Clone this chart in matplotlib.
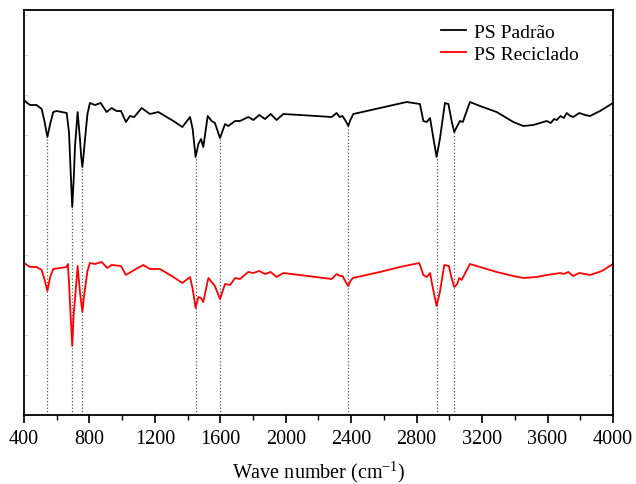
import numpy as np
import matplotlib
matplotlib.use("Agg")
import matplotlib.pyplot as plt
from matplotlib.ticker import MultipleLocator

plt.rcParams["font.family"] = ["Liberation Serif", "DejaVu Serif"]

# FTIR spectra (transmittance, arbitrary units)
wn_padrao = [400, 420, 437, 477, 508, 525, 543, 560, 579, 600, 661, 675, 686, 695, 704,
             712, 728, 742, 750, 757, 765, 773, 788, 803, 834, 869, 905, 936, 966, 993,
             1023, 1048, 1074, 1119, 1170, 1221, 1272, 1313, 1368, 1415, 1431, 1449,
             1466, 1482, 1496, 1523, 1547, 1567, 1598, 1629, 1649, 1690, 1720, 1771,
             1802, 1838, 1873, 1908, 1944, 1985, 2087, 2281, 2311, 2330, 2347, 2370,
             2382, 2395, 2413, 2495, 2576, 2657, 2739, 2820, 2841, 2862, 2882, 2900,
             2922, 2942, 2973, 2994, 3015, 3030, 3048, 3065, 3082, 3126, 3187, 3289,
             3391, 3452, 3513, 3595, 3620, 3640, 3656, 3680, 3700, 3717, 3740, 3757,
             3794, 3830, 3860, 3921, 4000]
t_padrao = [315, 312, 310, 310, 306, 294, 278, 291, 303, 304, 302, 283, 241, 208, 236,
            269, 303, 276, 258, 248, 261, 276, 301, 312, 310, 312, 303, 307, 304, 304,
            293, 299, 298, 307, 301, 303, 298, 294, 288, 298, 286, 258,
            271, 276, 268, 299, 294, 292, 277, 291, 289, 294, 294, 298,
            295, 300, 296, 301, 295, 301, 300, 298, 302, 298, 299, 293,
            289, 295, 301, 304, 307, 310, 313, 311, 294, 293, 297, 279,
            258, 276, 312, 311, 293, 283, 289, 294, 293, 313, 309, 303,
            293, 289, 290, 294, 292, 296, 295, 299, 297, 302, 299, 298,
            302, 300, 299, 304, 312]

wn_reciclado = [400, 437, 477, 508, 525, 543, 560, 579, 661, 668, 675, 686, 695, 704,
                712, 728, 742, 757, 765, 773, 788, 803, 834, 875, 909, 936, 993, 1023,
                1074, 1129, 1170, 1231, 1313, 1368, 1415, 1431, 1449, 1466, 1482, 1496,
                1527, 1567, 1598, 1629, 1660, 1690, 1720, 1771, 1802, 1838, 1873, 1908,
                1944, 1985, 2281, 2311, 2330, 2347, 2370, 2382, 2395, 2410, 2576, 2698,
                2816, 2841, 2862, 2882, 2900, 2922, 2942, 2969, 2997, 3015, 3030, 3048,
                3060, 3075, 3126, 3187, 3289, 3391, 3452, 3534, 3595, 3640, 3677, 3700,
                3727, 3757, 3794, 3860, 3932, 4000]
t_reciclado = [152, 148, 148, 145, 136, 124, 138, 146, 148, 151, 133, 96, 69, 101,
               116, 149, 123, 103, 116, 126, 144, 152, 151, 153, 147, 150, 149, 140,
               145, 150, 146, 146, 138, 132, 138, 126, 107, 118, 117, 113,
               137, 129, 116, 131, 130, 137, 136, 143, 142, 144, 141, 143,
               138, 142, 136, 141, 139, 139, 132, 129, 134, 137, 143, 148,
               152, 140, 138, 142, 126, 109, 123, 150, 149, 136, 128, 131,
               137, 135, 151, 148, 143, 139, 137, 138, 140, 141, 142, 141,
               143, 139, 142, 140, 144, 151]

# marked absorption bands
bands = [543, 695, 757, 1449, 1598, 2382, 2922, 3030]

fig = plt.figure(figsize=(6.36, 4.85), dpi=100)
ax = fig.add_axes([0.0377, 0.1423, 0.9261, 0.835])

for b in bands:
    top = np.interp(b, wn_padrao, t_padrao)
    ax.plot([b, b], [0, top], linestyle=":", color="#555555", linewidth=0.9)

ax.plot(wn_padrao, t_padrao, color="black", linewidth=1.3, label="PS Padrão")
ax.plot(wn_reciclado, t_reciclado, color="red", linewidth=1.3, label="PS Reciclado")

ax.set_xlim(400, 4000)
ax.set_ylim(0, 405)
ax.xaxis.set_major_locator(MultipleLocator(400))
ax.xaxis.set_minor_locator(MultipleLocator(200))
ax.yaxis.set_major_locator(MultipleLocator(40))
ax.tick_params(axis="x", which="major", direction="out", length=6, width=1.2,
               labelsize=14.5, pad=4)
ax.tick_params(axis="x", which="minor", direction="out", length=3.5, width=1.0)
ax.tick_params(axis="y", which="both", direction="in", length=3, width=0.5,
               color="#cccccc", left=True, right=True, labelleft=False)
for s in ax.spines.values():
    s.set_linewidth(1.3)

ax.set_xlabel("Wave number (cm$^{\\mathregular{-1}}$)", fontsize=14.5, labelpad=7)

ax.legend(loc="upper right", frameon=False, fontsize=14, handlelength=1.3,
          handletextpad=0.4, labelspacing=0.2, borderaxespad=0.3,
          bbox_to_anchor=(0.965, 1.0))

fig.savefig("out.png", dpi=100)
